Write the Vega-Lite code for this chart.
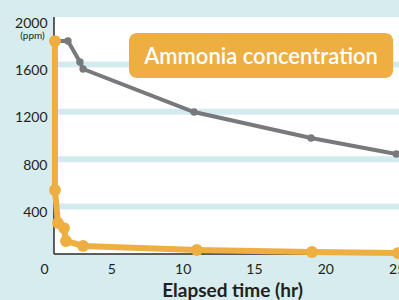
{
  "$schema": "https://vega.github.io/schema/vega-lite/v6.json",
  "width": 359,
  "height": 237,
  "autosize": {"type": "none"},
  "padding": {"left": 40, "top": 17, "right": 0, "bottom": 46},
  "background": "#d6ecef",
  "data": {"values": [{}]},
  "config": {
    "view": {"stroke": null, "fill": null},
    "font": "Lato",
    "axis": {"domain": false, "ticks": false, "grid": false, "labelColor": "#231f20", "labelFontSize": 14, "labelFont": "Lato", "titleColor": "#231f20", "titleFont": "Lato", "format": "d"},
    "axisX": {"labelPadding": 8, "titleX": 192, "titleY": 36, "titleBaseline": "middle", "titleAlign": "center", "titleFontSize": 19, "titleFontWeight": "bold"},
    "axisY": {"offset": -14, "labelPadding": 7, "labelOffset": 6, "titleAngle": 0, "titleX": -22, "titleY": 18.5, "titleAlign": "center", "titleBaseline": "middle", "titleFontSize": 10, "titleFontWeight": "normal"}
  },
  "datasets": {
    "gray": [
      {"t": 1.05, "ppm": 1797},
      {"t": 1.96, "ppm": 1797},
      {"t": 2.8, "ppm": 1620},
      {"t": 3.02, "ppm": 1561},
      {"t": 10.8, "ppm": 1198},
      {"t": 19.0, "ppm": 979},
      {"t": 24.98, "ppm": 844}
    ],
    "orange": [
      {"i": 1, "t": 1.05, "ppm": 1797},
      {"i": 2, "t": 1.05, "ppm": 540},
      {"i": 3, "t": 1.26, "ppm": 262},
      {"i": 4, "t": 1.68, "ppm": 219},
      {"i": 5, "t": 1.82, "ppm": 110},
      {"i": 6, "t": 3.02, "ppm": 68},
      {"i": 7, "t": 11.0, "ppm": 34},
      {"i": 8, "t": 19.07, "ppm": 17},
      {"i": 9, "t": 25.1, "ppm": 8}
    ],
    "grid": [{"v": 400}, {"v": 800}, {"v": 1200}, {"v": 1600}]
  },
  "layer": [
    {
      "mark": {"type": "rect", "fill": "white"},
      "encoding": {
        "x": {"datum": 0.98, "type": "quantitative", "scale": {"domain": [0, 25.17], "nice": false, "zero": false}, "title": "Elapsed time (hr)", "axis": {"values": [0, 5, 10, 15, 20, 25]}},
        "x2": {"datum": 25.17},
        "y": {"datum": 0, "type": "quantitative", "scale": {"domain": [0, 2000], "nice": false}, "title": "(ppm)", "axis": {"values": [400, 800, 1200, 1600, 2000]}},
        "y2": {"datum": 2000}
      }
    },
    {
      "data": {"name": "grid"},
      "mark": {"type": "rule", "stroke": "#d3ebee", "strokeWidth": 6},
      "encoding": {
        "x": {"datum": 0.98, "type": "quantitative", "title": "Elapsed time (hr)"},
        "x2": {"datum": 25.17},
        "y": {"field": "v", "type": "quantitative", "title": "(ppm)"}
      }
    },
    {
      "mark": {"type": "rule", "stroke": "#2b2b2b", "strokeWidth": 1.5},
      "encoding": {
        "x": {"datum": 0.98, "type": "quantitative", "title": "Elapsed time (hr)"},
        "x2": {"datum": 25.17},
        "y": {"datum": 0, "type": "quantitative", "title": "(ppm)"}
      }
    },
    {
      "mark": {"type": "rule", "stroke": "#2b2b2b", "strokeWidth": 1.5},
      "encoding": {
        "x": {"datum": 0.98, "type": "quantitative", "title": "Elapsed time (hr)"},
        "y": {"datum": 0, "type": "quantitative", "title": "(ppm)"},
        "y2": {"datum": 2000}
      }
    },
    {
      "data": {"name": "gray"},
      "mark": {"type": "line", "stroke": "#78797c", "strokeWidth": 4, "point": {"fill": "#78797c", "size": 55, "filled": true}},
      "encoding": {
        "x": {"field": "t", "type": "quantitative", "title": "Elapsed time (hr)"},
        "y": {"field": "ppm", "type": "quantitative", "title": "(ppm)"}
      }
    },
    {
      "data": {"name": "orange"},
      "mark": {"type": "line", "stroke": "#eeae42", "strokeWidth": 6, "point": {"fill": "#eeae42", "size": 140, "filled": true, "opacity": 1}},
      "encoding": {
        "x": {"field": "t", "type": "quantitative", "title": "Elapsed time (hr)"},
        "y": {"field": "ppm", "type": "quantitative", "title": "(ppm)"},
        "order": {"field": "i"}
      }
    },
    {
      "mark": {"type": "rect", "fill": "#eeae42", "cornerRadius": 8},
      "encoding": {
        "x": {"datum": 6.24, "type": "quantitative", "title": "Elapsed time (hr)"},
        "x2": {"datum": 24.76},
        "y": {"datum": 1865, "type": "quantitative", "title": "(ppm)"},
        "y2": {"datum": 1485}
      }
    },
    {
      "mark": {"type": "text", "text": "Ammonia concentration", "color": "white", "fontSize": 22, "fontWeight": 600, "font": "Lato", "align": "center", "baseline": "middle"},
      "encoding": {
        "x": {"datum": 15.5, "type": "quantitative", "title": "Elapsed time (hr)"},
        "y": {"datum": 1662, "type": "quantitative", "title": "(ppm)"}
      }
    }
  ]
}
